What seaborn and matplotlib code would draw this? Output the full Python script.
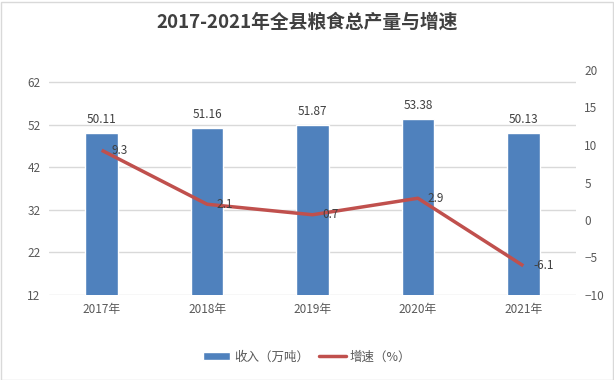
import numpy as np
import pandas as pd
import matplotlib
matplotlib.use("Agg")
import matplotlib.pyplot as plt
import seaborn as sns
from matplotlib.patches import Patch, Rectangle
from matplotlib.lines import Line2D

years = ["2017年", "2018年", "2019年", "2020年", "2021年"]
output = [50.11, 51.16, 51.87, 53.38, 50.13]
growth = [9.3, 2.1, 0.7, 2.9, -6.1]
left_ticks = [12, 22, 32, 42, 52, 62]
right_ticks = [-10, -5, 0, 5, 10, 15, 20]

BAR = "#4F81BD"
LINE = "#C0504D"
TXT = "#595959"

sns.set_theme(style="white")
plt.rcParams["font.family"] = ["Noto Sans CJK SC", "DejaVu Sans"]

df = pd.DataFrame({"year": years, "output": output, "growth": growth})

fig = plt.figure(figsize=(6.14, 3.8), dpi=100)
ax = fig.add_axes([49 / 614, 85 / 380, 527 / 614, 225 / 380])

sns.barplot(data=df, x="year", y="output", color=BAR, width=0.31,
            saturation=1, ax=ax, zorder=2)
ax.set_ylim(12, 64.8)
ax.set_yticks(left_ticks)
ax.set_xlim(-0.5, len(years) - 0.5)
ax.grid(axis="y", color="#D9D9D9", lw=1, zorder=0)
ax.set_axisbelow(True)
ax.set_xlabel(""); ax.set_ylabel("")
for s in ax.spines.values():
    s.set_visible(False)
ax.tick_params(axis="both", length=0, labelsize=8.5, labelcolor=TXT, pad=6)
ax.bar_label(ax.containers[0], fmt="%.2f", padding=5, fontsize=8.5, color="#404040")

ax2 = ax.twinx()
xpos = np.arange(len(years))
ax2.plot(xpos, df["growth"], color=LINE, lw=2.5, solid_capstyle="butt", zorder=3)
ax2.set_ylim(-10, 20)
ax2.set_yticks(right_ticks)
for s in ax2.spines.values():
    s.set_visible(False)
ax2.tick_params(axis="y", length=0, labelsize=8.5, labelcolor=TXT, pad=6)
for x, g in zip(xpos, growth):
    ax2.annotate(f"{g}", (x, g), xytext=(7, 0), textcoords="offset points",
                 ha="left", va="center", fontsize=8.5, color="#404040")

fig.text(0.5, 1 - 22 / 380, "2017-2021年全县粮食总产量与增速", ha="center", va="center",
         fontsize=13.5, fontweight="bold", color="#404040")

handles = [Patch(facecolor=BAR, label="收入（万吨）"),
           Line2D([0], [0], color=LINE, lw=2.5, label="增速（%）")]
fig.legend(handles=handles, loc="center", bbox_to_anchor=(0.5, 1 - 357 / 380), ncol=2,
           frameon=False, fontsize=9, handlelength=2.2, handleheight=0.6,
           columnspacing=0.8, handletextpad=0.3, labelcolor=TXT)

fig.patches.append(Rectangle((0.5 / 614, 0.5 / 380), 1 - 2 / 614, 1 - 2 / 380,
                             transform=fig.transFigure, fill=False, edgecolor="#D9D9D9", lw=1))

fig.savefig("out.png", dpi=100, facecolor="white")
